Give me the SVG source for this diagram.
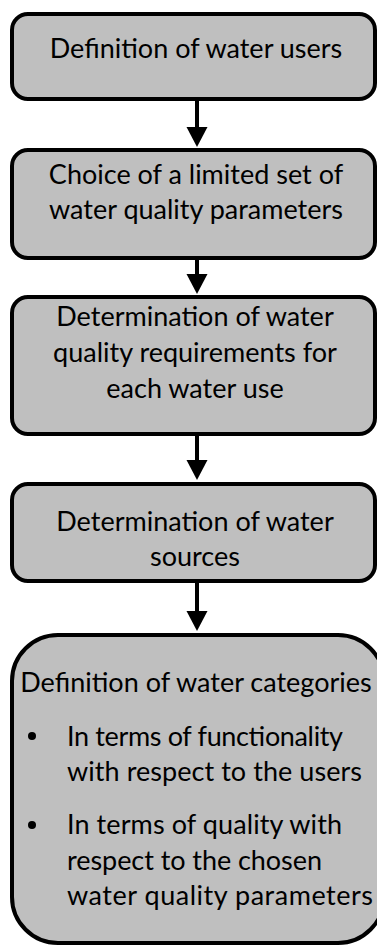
<svg xmlns="http://www.w3.org/2000/svg" width="377" height="947" viewBox="0 0 377 947">
  <style>
    .box { fill: #bfbfbf; stroke: #000; stroke-width: 4; }
    .lbl { font-family: Lato, "Liberation Sans", sans-serif; font-size: 27px; fill: #000; text-anchor: middle; }
    .left { text-anchor: start; }
    .wire { stroke: #000; stroke-width: 4; fill: none; }
    .head { fill: #000; }
  </style>

  <g id="connectors">
    <path class="wire" d="M197,101 V128" />
    <path class="head" d="M186.5,127 H207.5 L197,147 Z"/>
    <path class="wire" d="M197,260 V275" />
    <path class="head" d="M186.5,274 H207.5 L197,294 Z"/>
    <path class="wire" d="M197,436 V461" />
    <path class="head" d="M186.5,460 H207.5 L197,480 Z"/>
    <path class="wire" d="M197,583 V612" />
    <path class="head" d="M186.5,611 H207.5 L197,631 Z"/>
  </g>

  <g id="node-users">
    <rect class="box" x="12" y="14" width="363" height="85" rx="16"/>
    <text class="lbl" x="196" y="58">Definition of water users</text>
  </g>

  <g id="node-parameters">
    <rect class="box" x="12" y="150" width="363" height="108" rx="16"/>
    <text class="lbl" x="196" y="184">Choice of a limited set of</text>
    <text class="lbl" x="196" y="219">water quality parameters</text>
  </g>

  <g id="node-requirements">
    <rect class="box" x="12" y="297" width="363" height="137" rx="16"/>
    <text class="lbl" x="195" y="326">Determination of water</text>
    <text class="lbl" x="195" y="362">quality requirements for</text>
    <text class="lbl" x="195" y="398">each water use</text>
  </g>

  <g id="node-sources">
    <rect class="box" x="12" y="484" width="363" height="97" rx="16"/>
    <text class="lbl" x="195" y="531">Determination of water</text>
    <text class="lbl" x="195" y="566">sources</text>
  </g>

  <g id="node-categories">
    <rect class="box" x="12" y="635" width="372" height="308" rx="46"/>
    <text class="lbl" x="196" y="692">Definition of water categories</text>
    <circle cx="32" cy="736" r="4"/>
    <text class="lbl left" x="67" y="746" textLength="276">In terms of functionality</text>
    <text class="lbl left" x="67" y="781" textLength="295">with respect to the users</text>
    <circle cx="32" cy="825" r="4"/>
    <text class="lbl left" x="67" y="834" textLength="275">In terms of quality with</text>
    <text class="lbl left" x="67" y="870" textLength="255">respect to the chosen</text>
    <text class="lbl left" x="67" y="905" textLength="306">water quality parameters</text>
  </g>
</svg>
